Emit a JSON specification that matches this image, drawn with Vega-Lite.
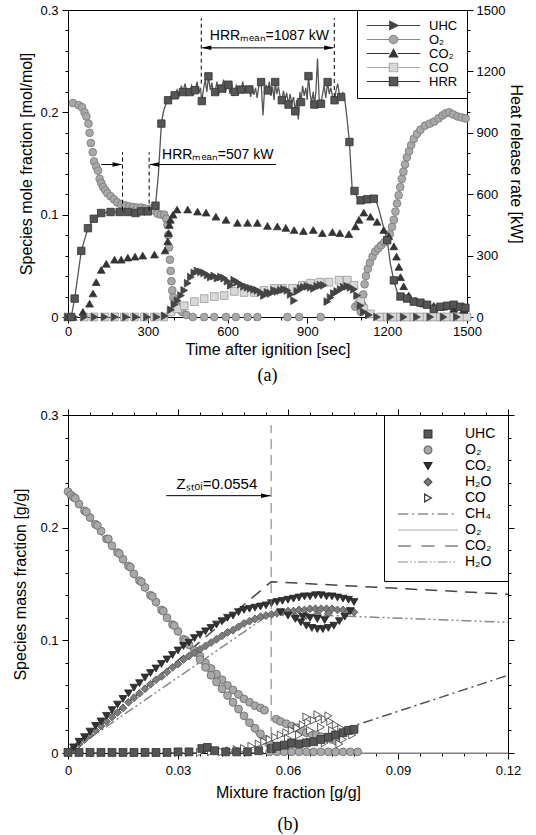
{
"$schema": "https://vega.github.io/schema/vega-lite/v6.json",
"padding": {"left": 12, "top": 3, "right": 0, "bottom": 0},
"config": {
 "font": "Liberation Sans",
 "view": {"stroke": "black", "strokeWidth": 1},
 "axis": {"labelFont": "Liberation Sans", "labelFontSize": 13, "labelColor": "black", "titleFont": "Liberation Sans", "titleFontSize": 16, "titleFontWeight": "normal", "titleColor": "black", "domainColor": "black", "tickColor": "black", "grid": false, "labelOverlap": false, "labelFlush": false, "labelBound": false},
 "legend": {"labelFont": "Liberation Sans", "labelColor": "black"}
},
"spacing": 22,
"align": "none",
"resolve": {"scale": {"fill": "independent", "stroke": "independent", "shape": "independent", "color": "independent", "strokeDash": "independent"}, "legend": {"fill": "independent", "stroke": "independent", "shape": "independent", "color": "independent", "strokeDash": "independent"}},
"datasets": {
 "hrrline": [
  {"t":0,"h":0},{"t":12,"h":0},{"t":25,"h":90},{"t":50,"h":323},{"t":75,"h":434},{"t":97,"h":480},{"t":125,"h":508},{"t":160,"h":513},{"t":194,"h":513},{"t":225,"h":513},{"t":254,"h":508},{"t":275,"h":516},{"t":300,"h":516},{"t":329,"h":544},{"t":340,"h":700},{"t":351,"h":945},{"t":360,"h":1010},{"t":368,"h":1040},{"t":376,"h":1059},{"t":385,"h":1070},{"t":393,"h":1095},{"t":401,"h":1083},{"t":410,"h":1110},{"t":418,"h":1080},{"t":426,"h":1130},{"t":432,"h":1099},{"t":440,"h":1140},{"t":448,"h":1085},{"t":457,"h":1099},{"t":465,"h":1130},{"t":472,"h":1090},{"t":478,"h":1108},{"t":485,"h":1150},{"t":492,"h":1095},{"t":498,"h":1120},{"t":503,"h":1055},{"t":510,"h":1120},{"t":516,"h":1160},{"t":522,"h":1100},{"t":528,"h":1176},{"t":535,"h":1110},{"t":541,"h":1145},{"t":547,"h":1090},{"t":553,"h":1099},{"t":560,"h":1150},{"t":566,"h":1085},{"t":572,"h":1130},{"t":578,"h":1116},{"t":585,"h":1160},{"t":591,"h":1095},{"t":597,"h":1120},{"t":603,"h":1135},{"t":609,"h":1090},{"t":615,"h":1145},{"t":621,"h":1080},{"t":627,"h":1100},{"t":633,"h":1135},{"t":639,"h":1085},{"t":645,"h":1125},{"t":651,"h":1111},{"t":657,"h":1150},{"t":663,"h":1095},{"t":669,"h":1120},{"t":675,"h":1100},{"t":681,"h":1112},{"t":687,"h":1075},{"t":693,"h":1130},{"t":699,"h":1085},{"t":705,"h":1120},{"t":711,"h":1070},{"t":717,"h":1125},{"t":726,"h":1148},{"t":733,"h":985},{"t":739,"h":1110},{"t":745,"h":1130},{"t":751,"h":1107},{"t":757,"h":1150},{"t":763,"h":1080},{"t":769,"h":1125},{"t":775,"h":1060},{"t":779,"h":1148},{"t":785,"h":1090},{"t":791,"h":1125},{"t":797,"h":1080},{"t":804,"h":1059},{"t":810,"h":1105},{"t":816,"h":1060},{"t":822,"h":1095},{"t":829,"h":1038},{"t":835,"h":1090},{"t":841,"h":1045},{"t":848,"h":1075},{"t":854,"h":1005},{"t":860,"h":1060},{"t":866,"h":965},{"t":872,"h":1100},{"t":876,"h":1050},{"t":882,"h":1130},{"t":888,"h":1080},{"t":894,"h":1120},{"t":899,"h":1060},{"t":904,"h":1177},{"t":910,"h":1090},{"t":916,"h":1050},{"t":922,"h":1100},{"t":926,"h":1038},{"t":932,"h":1100},{"t":938,"h":1263},{"t":944,"h":1070},{"t":951,"h":1042},{"t":957,"h":1090},{"t":963,"h":1130},{"t":969,"h":1070},{"t":976,"h":1148},{"t":982,"h":1090},{"t":988,"h":1120},{"t":994,"h":1080},{"t":1002,"h":1059},{"t":1008,"h":1110},{"t":1014,"h":1140},{"t":1020,"h":1090},{"t":1027,"h":1075},{"t":1033,"h":1095},{"t":1040,"h":1070},{"t":1048,"h":980},{"t":1058,"h":855},{"t":1064,"h":720},{"t":1069,"h":611},{"t":1077,"h":616},{"t":1085,"h":590},{"t":1093,"h":575},{"t":1100,"h":570},{"t":1110,"h":585},{"t":1120,"h":560},{"t":1130,"h":590},{"t":1140,"h":595},{"t":1150,"h":578},{"t":1160,"h":560},{"t":1170,"h":520},{"t":1180,"h":470},{"t":1190,"h":420},{"t":1200,"h":375},{"t":1212,"h":260},{"t":1225,"h":179},{"t":1238,"h":120},{"t":1250,"h":100},{"t":1262,"h":95},{"t":1275,"h":90},{"t":1288,"h":80},{"t":1300,"h":75},{"t":1312,"h":78},{"t":1325,"h":70},{"t":1337,"h":68},{"t":1350,"h":60},{"t":1362,"h":50},{"t":1375,"h":40},{"t":1387,"h":45},{"t":1400,"h":50},{"t":1412,"h":52},{"t":1425,"h":55},{"t":1437,"h":58},{"t":1450,"h":60},{"t":1462,"h":55},{"t":1475,"h":50},{"t":1487,"h":48},{"t":1500,"h":45}
 ],
 "hrrpts": [
  {"t":12,"h":0},{"t":25,"h":90},{"t":50,"h":323},{"t":75,"h":434},{"t":97,"h":480},{"t":125,"h":508},{"t":160,"h":513},{"t":194,"h":513},{"t":225,"h":513},{"t":254,"h":508},{"t":275,"h":516},{"t":300,"h":516},{"t":329,"h":544},{"t":351,"h":945},{"t":376,"h":1059},{"t":401,"h":1083},{"t":432,"h":1099},{"t":457,"h":1099},{"t":478,"h":1108},{"t":503,"h":1055},{"t":528,"h":1176},{"t":553,"h":1099},{"t":578,"h":1116},{"t":603,"h":1135},{"t":627,"h":1100},{"t":651,"h":1111},{"t":681,"h":1112},{"t":726,"h":1148},{"t":751,"h":1107},{"t":779,"h":1148},{"t":804,"h":1059},{"t":829,"h":1038},{"t":854,"h":1005},{"t":876,"h":1050},{"t":904,"h":1177},{"t":926,"h":1038},{"t":951,"h":1042},{"t":976,"h":1148},{"t":1002,"h":1059},{"t":1027,"h":1075},{"t":1058,"h":855},{"t":1077,"h":616},{"t":1100,"h":570},{"t":1125,"h":575},{"t":1150,"h":578},{"t":1200,"h":375},{"t":1225,"h":179},{"t":1250,"h":100},{"t":1275,"h":90},{"t":1300,"h":75},{"t":1325,"h":70},{"t":1350,"h":60},{"t":1375,"h":40},{"t":1400,"h":50},{"t":1425,"h":55},{"t":1450,"h":60},{"t":1475,"h":50},{"t":1494,"h":45}
 ],
 "sa": [
  {"s":"O₂","t":19,"v":0.209},{"s":"O₂","t":40,"v":0.207},{"s":"O₂","t":53,"v":0.205},{"s":"O₂","t":62,"v":0.2},{"s":"O₂","t":69,"v":0.196},{"s":"O₂","t":77,"v":0.189},{"s":"O₂","t":81,"v":0.18},{"s":"O₂","t":86,"v":0.17},{"s":"O₂","t":93,"v":0.161},{"s":"O₂","t":98,"v":0.152},{"s":"O₂","t":106,"v":0.147},{"s":"O₂","t":113,"v":0.143},{"s":"O₂","t":119,"v":0.135},{"s":"O₂","t":125,"v":0.131},{"s":"O₂","t":132,"v":0.127},{"s":"O₂","t":140,"v":0.124},{"s":"O₂","t":148,"v":0.121},{"s":"O₂","t":160,"v":0.118},{"s":"O₂","t":173,"v":0.115},{"s":"O₂","t":185,"v":0.112},{"s":"O₂","t":200,"v":0.11},{"s":"O₂","t":215,"v":0.109},{"s":"O₂","t":230,"v":0.108},{"s":"O₂","t":244,"v":0.1075},{"s":"O₂","t":260,"v":0.107},{"s":"O₂","t":275,"v":0.107},{"s":"O₂","t":290,"v":0.106},{"s":"O₂","t":312,"v":0.106},{"s":"O₂","t":325,"v":0.104},{"s":"O₂","t":337,"v":0.101},{"s":"O₂","t":350,"v":0.1},{"s":"O₂","t":362,"v":0.1},{"s":"O₂","t":370,"v":0.096},{"s":"O₂","t":374,"v":0.09},{"s":"O₂","t":377,"v":0.08},{"s":"O₂","t":380,"v":0.068},{"s":"O₂","t":383,"v":0.056},{"s":"O₂","t":386,"v":0.045},{"s":"O₂","t":389,"v":0.035},{"s":"O₂","t":392,"v":0.026},{"s":"O₂","t":396,"v":0.019},{"s":"O₂","t":403,"v":0.014},{"s":"O₂","t":412,"v":0.01},{"s":"O₂","t":421,"v":0.007},{"s":"O₂","t":430,"v":0.005},{"s":"O₂","t":445,"v":0.002},{"s":"O₂","t":469,"v":0},{"s":"O₂","t":512,"v":0},{"s":"O₂","t":550,"v":0},{"s":"O₂","t":594,"v":0},{"s":"O₂","t":631,"v":0},{"s":"O₂","t":675,"v":0},{"s":"O₂","t":712,"v":0},{"s":"O₂","t":825,"v":0},{"s":"O₂","t":869,"v":0},{"s":"O₂","t":950,"v":0},{"s":"O₂","t":1080,"v":0.01},{"s":"O₂","t":1091,"v":0.013},{"s":"O₂","t":1101,"v":0.005},{"s":"O₂","t":1106,"v":0.012},{"s":"O₂","t":1110,"v":0.022},{"s":"O₂","t":1115,"v":0.032},{"s":"O₂","t":1120,"v":0.04},{"s":"O₂","t":1127,"v":0.047},{"s":"O₂","t":1135,"v":0.053},{"s":"O₂","t":1145,"v":0.059},{"s":"O₂","t":1155,"v":0.064},{"s":"O₂","t":1166,"v":0.067},{"s":"O₂","t":1177,"v":0.07},{"s":"O₂","t":1189,"v":0.073},{"s":"O₂","t":1200,"v":0.076},{"s":"O₂","t":1210,"v":0.081},{"s":"O₂","t":1218,"v":0.088},{"s":"O₂","t":1225,"v":0.095},{"s":"O₂","t":1231,"v":0.103},{"s":"O₂","t":1237,"v":0.111},{"s":"O₂","t":1243,"v":0.119},{"s":"O₂","t":1249,"v":0.127},{"s":"O₂","t":1255,"v":0.135},{"s":"O₂","t":1261,"v":0.142},{"s":"O₂","t":1267,"v":0.149},{"s":"O₂","t":1274,"v":0.156},{"s":"O₂","t":1282,"v":0.162},{"s":"O₂","t":1290,"v":0.168},{"s":"O₂","t":1300,"v":0.174},{"s":"O₂","t":1312,"v":0.179},{"s":"O₂","t":1325,"v":0.183},{"s":"O₂","t":1342,"v":0.187},{"s":"O₂","t":1360,"v":0.189},{"s":"O₂","t":1377,"v":0.191},{"s":"O₂","t":1393,"v":0.194},{"s":"O₂","t":1408,"v":0.197},{"s":"O₂","t":1420,"v":0.199},{"s":"O₂","t":1433,"v":0.2},{"s":"O₂","t":1448,"v":0.198},{"s":"O₂","t":1464,"v":0.196},{"s":"O₂","t":1480,"v":0.195},{"s":"O₂","t":1495,"v":0.194},
  {"s":"CO","t":0,"v":0},{"s":"CO","t":61,"v":0},{"s":"CO","t":97,"v":0},{"s":"CO","t":139,"v":0},{"s":"CO","t":175,"v":0},{"s":"CO","t":212,"v":0},{"s":"CO","t":250,"v":0},{"s":"CO","t":287,"v":0},{"s":"CO","t":325,"v":0},{"s":"CO","t":360,"v":0},{"s":"CO","t":387,"v":0.005},{"s":"CO","t":412,"v":0.008},{"s":"CO","t":437,"v":0.011},{"s":"CO","t":475,"v":0.015},{"s":"CO","t":512,"v":0.018},{"s":"CO","t":550,"v":0.02},{"s":"CO","t":587,"v":0.021},{"s":"CO","t":625,"v":0.025},{"s":"CO","t":662,"v":0.024},{"s":"CO","t":700,"v":0.024},{"s":"CO","t":737,"v":0.026},{"s":"CO","t":775,"v":0.028},{"s":"CO","t":806,"v":0.028},{"s":"CO","t":844,"v":0.028},{"s":"CO","t":881,"v":0.031},{"s":"CO","t":912,"v":0.033},{"s":"CO","t":947,"v":0.034},{"s":"CO","t":981,"v":0.034},{"s":"CO","t":1019,"v":0.036},{"s":"CO","t":1050,"v":0.036},{"s":"CO","t":1075,"v":0.031},{"s":"CO","t":1100,"v":0.015},{"s":"CO","t":1112,"v":0.008},{"s":"CO","t":1137,"v":0.003},{"s":"CO","t":1175,"v":0},{"s":"CO","t":1200,"v":0},{"s":"CO","t":1225,"v":0},{"s":"CO","t":1250,"v":0},{"s":"CO","t":1275,"v":0},{"s":"CO","t":1300,"v":0},{"s":"CO","t":1325,"v":0},{"s":"CO","t":1350,"v":0},{"s":"CO","t":1375,"v":0},{"s":"CO","t":1400,"v":0},{"s":"CO","t":1425,"v":0},{"s":"CO","t":1450,"v":0},{"s":"CO","t":1475,"v":0},{"s":"CO","t":1500,"v":0},
  {"s":"CO₂","t":0,"v":0},{"s":"CO₂","t":19,"v":0},{"s":"CO₂","t":56,"v":0.005},{"s":"CO₂","t":81,"v":0.013},{"s":"CO₂","t":94,"v":0.023},{"s":"CO₂","t":106,"v":0.034},{"s":"CO₂","t":125,"v":0.046},{"s":"CO₂","t":144,"v":0.052},{"s":"CO₂","t":175,"v":0.056},{"s":"CO₂","t":200,"v":0.056},{"s":"CO₂","t":225,"v":0.058},{"s":"CO₂","t":252,"v":0.059},{"s":"CO₂","t":281,"v":0.06},{"s":"CO₂","t":325,"v":0.061},{"s":"CO₂","t":365,"v":0.065},{"s":"CO₂","t":375,"v":0.074},{"s":"CO₂","t":378,"v":0.082},{"s":"CO₂","t":381,"v":0.09},{"s":"CO₂","t":385,"v":0.095},{"s":"CO₂","t":395,"v":0.1},{"s":"CO₂","t":410,"v":0.105},{"s":"CO₂","t":450,"v":0.105},{"s":"CO₂","t":487,"v":0.103},{"s":"CO₂","t":519,"v":0.102},{"s":"CO₂","t":556,"v":0.098},{"s":"CO₂","t":594,"v":0.095},{"s":"CO₂","t":637,"v":0.092},{"s":"CO₂","t":675,"v":0.092},{"s":"CO₂","t":712,"v":0.092},{"s":"CO₂","t":750,"v":0.089},{"s":"CO₂","t":787,"v":0.0885},{"s":"CO₂","t":819,"v":0.087},{"s":"CO₂","t":850,"v":0.085},{"s":"CO₂","t":885,"v":0.084},{"s":"CO₂","t":922,"v":0.085},{"s":"CO₂","t":956,"v":0.082},{"s":"CO₂","t":994,"v":0.083},{"s":"CO₂","t":1022,"v":0.082},{"s":"CO₂","t":1056,"v":0.081},{"s":"CO₂","t":1081,"v":0.0885},{"s":"CO₂","t":1094,"v":0.095},{"s":"CO₂","t":1112,"v":0.102},{"s":"CO₂","t":1137,"v":0.098},{"s":"CO₂","t":1162,"v":0.093},{"s":"CO₂","t":1187,"v":0.085},{"s":"CO₂","t":1206,"v":0.079},{"s":"CO₂","t":1225,"v":0.069},{"s":"CO₂","t":1235,"v":0.059},{"s":"CO₂","t":1244,"v":0.049},{"s":"CO₂","t":1250,"v":0.039},{"s":"CO₂","t":1262,"v":0.03},{"s":"CO₂","t":1281,"v":0.021},{"s":"CO₂","t":1306,"v":0.016},{"s":"CO₂","t":1337,"v":0.013},{"s":"CO₂","t":1375,"v":0.011},{"s":"CO₂","t":1412,"v":0.01},{"s":"CO₂","t":1450,"v":0.008},{"s":"CO₂","t":1487,"v":0.007},
  {"s":"UHC","t":0,"v":0},{"s":"UHC","t":24,"v":0},{"s":"UHC","t":61,"v":0},{"s":"UHC","t":100,"v":0},{"s":"UHC","t":138,"v":0},{"s":"UHC","t":176,"v":0},{"s":"UHC","t":218,"v":0},{"s":"UHC","t":255,"v":0},{"s":"UHC","t":297,"v":0},{"s":"UHC","t":333,"v":0},{"s":"UHC","t":364,"v":0.001},{"s":"UHC","t":387,"v":0.007},{"s":"UHC","t":400,"v":0.012},{"s":"UHC","t":412,"v":0.016},{"s":"UHC","t":425,"v":0.021},{"s":"UHC","t":437,"v":0.026},{"s":"UHC","t":450,"v":0.033},{"s":"UHC","t":462,"v":0.039},{"s":"UHC","t":475,"v":0.043},{"s":"UHC","t":487,"v":0.045},{"s":"UHC","t":500,"v":0.044},{"s":"UHC","t":512,"v":0.043},{"s":"UHC","t":525,"v":0.041},{"s":"UHC","t":537,"v":0.039},{"s":"UHC","t":550,"v":0.04},{"s":"UHC","t":562,"v":0.038},{"s":"UHC","t":575,"v":0.039},{"s":"UHC","t":587,"v":0.038},{"s":"UHC","t":600,"v":0.035},{"s":"UHC","t":612,"v":0.031},{"s":"UHC","t":625,"v":0.036},{"s":"UHC","t":637,"v":0.034},{"s":"UHC","t":650,"v":0.032},{"s":"UHC","t":662,"v":0.03},{"s":"UHC","t":675,"v":0.029},{"s":"UHC","t":687,"v":0.028},{"s":"UHC","t":700,"v":0.027},{"s":"UHC","t":712,"v":0.026},{"s":"UHC","t":725,"v":0.024},{"s":"UHC","t":737,"v":0.021},{"s":"UHC","t":750,"v":0.024},{"s":"UHC","t":762,"v":0.023},{"s":"UHC","t":775,"v":0.026},{"s":"UHC","t":787,"v":0.025},{"s":"UHC","t":800,"v":0.026},{"s":"UHC","t":812,"v":0.027},{"s":"UHC","t":825,"v":0.026},{"s":"UHC","t":837,"v":0.022},{"s":"UHC","t":850,"v":0.016},{"s":"UHC","t":862,"v":0.025},{"s":"UHC","t":875,"v":0.028},{"s":"UHC","t":887,"v":0.029},{"s":"UHC","t":900,"v":0.03},{"s":"UHC","t":912,"v":0.029},{"s":"UHC","t":925,"v":0.028},{"s":"UHC","t":937,"v":0.03},{"s":"UHC","t":950,"v":0.031},{"s":"UHC","t":962,"v":0.031},{"s":"UHC","t":975,"v":0.015},{"s":"UHC","t":987,"v":0.019},{"s":"UHC","t":1000,"v":0.023},{"s":"UHC","t":1012,"v":0.025},{"s":"UHC","t":1025,"v":0.027},{"s":"UHC","t":1037,"v":0.029},{"s":"UHC","t":1050,"v":0.03},{"s":"UHC","t":1062,"v":0.029},{"s":"UHC","t":1075,"v":0.027},{"s":"UHC","t":1087,"v":0.021},{"s":"UHC","t":1100,"v":0.011},{"s":"UHC","t":1112,"v":0.005},{"s":"UHC","t":1131,"v":0.002},{"s":"UHC","t":1162,"v":0},{"s":"UHC","t":1212,"v":0},{"s":"UHC","t":1262,"v":0},{"s":"UHC","t":1312,"v":0},{"s":"UHC","t":1362,"v":0},{"s":"UHC","t":1412,"v":0},{"s":"UHC","t":1462,"v":0}
 ],
 "annvert": [
  {"t":205,"y":0.104,"y2":0.161},{"t":305,"y":0.104,"y2":0.161},{"t":501,"y":0.228,"y2":0.292},{"t":1001,"y":0.215,"y2":0.292}
 ],
 "annhor": [
  {"t":125,"t2":200,"y":0.149},{"t":308,"t2":782,"y":0.149},{"t":506,"t2":996,"y":0.263}
 ],
 "headright": [{"t":186,"y":0.149},{"t":982,"y":0.263}],
 "headleft": [{"t":324,"y":0.149},{"t":520,"y":0.263}],
 "anntext": [
  {"t":563,"y":0.158,"txt":"HRRₘₑₐₙ=507 kW"},
  {"t":757,"y":0.2744,"txt":"HRRₘₑₐₙ=1087 kW"}
 ],
 "eq": [
  {"e":"CH4eq","z":0,"y":0},{"e":"CH4eq","z":0.0554,"y":0},{"e":"CH4eq","z":0.12,"y":0.069},
  {"e":"O2eq","z":0,"y":0.232},{"e":"O2eq","z":0.0554,"y":0},{"e":"O2eq","z":0.12,"y":0},
  {"e":"CO2eq","z":0,"y":0},{"e":"CO2eq","z":0.0554,"y":0.152},{"e":"CO2eq","z":0.12,"y":0.141},
  {"e":"H2Oeq","z":0,"y":0},{"e":"H2Oeq","z":0.0554,"y":0.124},{"e":"H2Oeq","z":0.12,"y":0.116}
 ],
 "sb": [
  {"s":"O₂","z":0,"y":0.232},{"s":"O₂","z":0.0008,"y":0.229},{"s":"O₂","z":0.0015,"y":0.227},{"s":"O₂","z":0.003,"y":0.221},{"s":"O₂","z":0.0045,"y":0.215},{"s":"O₂","z":0.006,"y":0.209},{"s":"O₂","z":0.0075,"y":0.203},{"s":"O₂","z":0.009,"y":0.197},{"s":"O₂","z":0.0105,"y":0.19},{"s":"O₂","z":0.012,"y":0.184},{"s":"O₂","z":0.0135,"y":0.178},{"s":"O₂","z":0.015,"y":0.172},{"s":"O₂","z":0.0165,"y":0.166},{"s":"O₂","z":0.018,"y":0.159},{"s":"O₂","z":0.0195,"y":0.153},{"s":"O₂","z":0.021,"y":0.147},{"s":"O₂","z":0.0225,"y":0.14},{"s":"O₂","z":0.024,"y":0.134},{"s":"O₂","z":0.0255,"y":0.127},{"s":"O₂","z":0.027,"y":0.12},{"s":"O₂","z":0.0285,"y":0.114},{"s":"O₂","z":0.03,"y":0.108},{"s":"O₂","z":0.0315,"y":0.101},{"s":"O₂","z":0.033,"y":0.096},{"s":"O₂","z":0.0345,"y":0.091},
  {"s":"O₂","z":0.002,"y":0.226},{"s":"O₂","z":0.005,"y":0.214},{"s":"O₂","z":0.008,"y":0.202},{"s":"O₂","z":0.011,"y":0.19},{"s":"O₂","z":0.014,"y":0.177},{"s":"O₂","z":0.017,"y":0.165},{"s":"O₂","z":0.02,"y":0.152},{"s":"O₂","z":0.023,"y":0.139},{"s":"O₂","z":0.026,"y":0.126},{"s":"O₂","z":0.029,"y":0.113},{"s":"O₂","z":0.032,"y":0.1},
  {"s":"O₂","z":0.036,"y":0.086},{"s":"O₂","z":0.0375,"y":0.08},{"s":"O₂","z":0.039,"y":0.075},{"s":"O₂","z":0.0405,"y":0.07},{"s":"O₂","z":0.042,"y":0.065},{"s":"O₂","z":0.0435,"y":0.06},{"s":"O₂","z":0.045,"y":0.056},{"s":"O₂","z":0.0465,"y":0.052},{"s":"O₂","z":0.048,"y":0.048},{"s":"O₂","z":0.0495,"y":0.045},{"s":"O₂","z":0.051,"y":0.042},{"s":"O₂","z":0.0525,"y":0.04},{"s":"O₂","z":0.0536,"y":0.038},
  {"s":"O₂","z":0.036,"y":0.083},{"s":"O₂","z":0.0375,"y":0.076},{"s":"O₂","z":0.039,"y":0.069},{"s":"O₂","z":0.0405,"y":0.063},{"s":"O₂","z":0.042,"y":0.057},{"s":"O₂","z":0.0435,"y":0.051},{"s":"O₂","z":0.045,"y":0.045},{"s":"O₂","z":0.0465,"y":0.039},{"s":"O₂","z":0.048,"y":0.033},{"s":"O₂","z":0.0495,"y":0.027},{"s":"O₂","z":0.051,"y":0.022},{"s":"O₂","z":0.0525,"y":0.017},{"s":"O₂","z":0.054,"y":0.012},{"s":"O₂","z":0.055,"y":0.008},
  {"s":"O₂","z":0.0568,"y":0.03},{"s":"O₂","z":0.058,"y":0.028},{"s":"O₂","z":0.0595,"y":0.026},{"s":"O₂","z":0.061,"y":0.024},{"s":"O₂","z":0.0623,"y":0.0225},{"s":"O₂","z":0.0637,"y":0.02},{"s":"O₂","z":0.065,"y":0.018},{"s":"O₂","z":0.0665,"y":0.017},{"s":"O₂","z":0.0677,"y":0.016},{"s":"O₂","z":0.069,"y":0.0145},{"s":"O₂","z":0.0705,"y":0.013},{"s":"O₂","z":0.072,"y":0.012},{"s":"O₂","z":0.0732,"y":0.0105},
  {"s":"O₂","z":0.055,"y":0.001},{"s":"O₂","z":0.057,"y":0.001},{"s":"O₂","z":0.059,"y":0.001},{"s":"O₂","z":0.061,"y":0.001},{"s":"O₂","z":0.063,"y":0.001},{"s":"O₂","z":0.065,"y":0.001},{"s":"O₂","z":0.067,"y":0.001},{"s":"O₂","z":0.069,"y":0.001},{"s":"O₂","z":0.071,"y":0.001},{"s":"O₂","z":0.073,"y":0.001},{"s":"O₂","z":0.075,"y":0.001},{"s":"O₂","z":0.077,"y":0.001},{"s":"O₂","z":0.079,"y":0.001},
  {"s":"H₂O","z":0,"y":0},{"s":"H₂O","z":0.0015,"y":0.004},{"s":"H₂O","z":0.003,"y":0.008},{"s":"H₂O","z":0.0045,"y":0.012},{"s":"H₂O","z":0.006,"y":0.016},{"s":"H₂O","z":0.0075,"y":0.02},{"s":"H₂O","z":0.009,"y":0.024},{"s":"H₂O","z":0.0105,"y":0.028},{"s":"H₂O","z":0.012,"y":0.032},{"s":"H₂O","z":0.0135,"y":0.036},{"s":"H₂O","z":0.015,"y":0.04},{"s":"H₂O","z":0.0165,"y":0.045},{"s":"H₂O","z":0.018,"y":0.049},{"s":"H₂O","z":0.0195,"y":0.053},{"s":"H₂O","z":0.021,"y":0.057},{"s":"H₂O","z":0.0225,"y":0.061},{"s":"H₂O","z":0.024,"y":0.065},{"s":"H₂O","z":0.0255,"y":0.068},{"s":"H₂O","z":0.027,"y":0.072},{"s":"H₂O","z":0.0285,"y":0.076},{"s":"H₂O","z":0.03,"y":0.079},{"s":"H₂O","z":0.0315,"y":0.083},{"s":"H₂O","z":0.033,"y":0.086},{"s":"H₂O","z":0.0345,"y":0.089},{"s":"H₂O","z":0.036,"y":0.092},{"s":"H₂O","z":0.0375,"y":0.095},{"s":"H₂O","z":0.039,"y":0.098},{"s":"H₂O","z":0.0405,"y":0.101},{"s":"H₂O","z":0.042,"y":0.104},{"s":"H₂O","z":0.0435,"y":0.107},{"s":"H₂O","z":0.045,"y":0.109},{"s":"H₂O","z":0.0465,"y":0.112},{"s":"H₂O","z":0.048,"y":0.115},{"s":"H₂O","z":0.0495,"y":0.117},{"s":"H₂O","z":0.051,"y":0.119},{"s":"H₂O","z":0.0525,"y":0.121},{"s":"H₂O","z":0.054,"y":0.122},
  {"s":"H₂O","z":0.0555,"y":0.123},{"s":"H₂O","z":0.057,"y":0.124},{"s":"H₂O","z":0.0585,"y":0.125},{"s":"H₂O","z":0.06,"y":0.126},{"s":"H₂O","z":0.0615,"y":0.126},{"s":"H₂O","z":0.063,"y":0.127},{"s":"H₂O","z":0.0645,"y":0.127},{"s":"H₂O","z":0.066,"y":0.128},{"s":"H₂O","z":0.0675,"y":0.128},{"s":"H₂O","z":0.069,"y":0.128},{"s":"H₂O","z":0.0705,"y":0.128},{"s":"H₂O","z":0.072,"y":0.128},{"s":"H₂O","z":0.0735,"y":0.127},{"s":"H₂O","z":0.075,"y":0.127},{"s":"H₂O","z":0.0765,"y":0.126},{"s":"H₂O","z":0.078,"y":0.125},{"s":"H₂O","z":0.062,"y":0.121},{"s":"H₂O","z":0.065,"y":0.122},{"s":"H₂O","z":0.068,"y":0.123},{"s":"H₂O","z":0.071,"y":0.124},
  {"s":"CO₂","z":0,"y":0},{"s":"CO₂","z":0.0015,"y":0.005},{"s":"CO₂","z":0.003,"y":0.01},{"s":"CO₂","z":0.0045,"y":0.014},{"s":"CO₂","z":0.006,"y":0.019},{"s":"CO₂","z":0.0075,"y":0.024},{"s":"CO₂","z":0.009,"y":0.028},{"s":"CO₂","z":0.0105,"y":0.033},{"s":"CO₂","z":0.012,"y":0.038},{"s":"CO₂","z":0.0135,"y":0.043},{"s":"CO₂","z":0.015,"y":0.048},{"s":"CO₂","z":0.0165,"y":0.053},{"s":"CO₂","z":0.018,"y":0.058},{"s":"CO₂","z":0.0195,"y":0.062},{"s":"CO₂","z":0.021,"y":0.067},{"s":"CO₂","z":0.0225,"y":0.071},{"s":"CO₂","z":0.024,"y":0.075},{"s":"CO₂","z":0.0255,"y":0.079},{"s":"CO₂","z":0.027,"y":0.083},{"s":"CO₂","z":0.0285,"y":0.087},{"s":"CO₂","z":0.03,"y":0.091},{"s":"CO₂","z":0.0315,"y":0.095},{"s":"CO₂","z":0.033,"y":0.098},{"s":"CO₂","z":0.0345,"y":0.102},{"s":"CO₂","z":0.036,"y":0.105},{"s":"CO₂","z":0.0375,"y":0.108},{"s":"CO₂","z":0.039,"y":0.111},{"s":"CO₂","z":0.0405,"y":0.114},{"s":"CO₂","z":0.042,"y":0.117},{"s":"CO₂","z":0.0435,"y":0.12},{"s":"CO₂","z":0.045,"y":0.122},{"s":"CO₂","z":0.0465,"y":0.125},{"s":"CO₂","z":0.048,"y":0.127},{"s":"CO₂","z":0.0495,"y":0.128},{"s":"CO₂","z":0.051,"y":0.129},{"s":"CO₂","z":0.0525,"y":0.13},{"s":"CO₂","z":0.054,"y":0.131},
  {"s":"CO₂","z":0.0555,"y":0.133},{"s":"CO₂","z":0.057,"y":0.134},{"s":"CO₂","z":0.0585,"y":0.135},{"s":"CO₂","z":0.06,"y":0.136},{"s":"CO₂","z":0.0615,"y":0.137},{"s":"CO₂","z":0.063,"y":0.138},{"s":"CO₂","z":0.0645,"y":0.139},{"s":"CO₂","z":0.066,"y":0.139},{"s":"CO₂","z":0.0675,"y":0.14},{"s":"CO₂","z":0.069,"y":0.14},{"s":"CO₂","z":0.0705,"y":0.139},{"s":"CO₂","z":0.072,"y":0.139},{"s":"CO₂","z":0.0735,"y":0.138},{"s":"CO₂","z":0.075,"y":0.137},{"s":"CO₂","z":0.0765,"y":0.136},{"s":"CO₂","z":0.078,"y":0.134},
  {"s":"CO₂","z":0.058,"y":0.125},{"s":"CO₂","z":0.06,"y":0.122},{"s":"CO₂","z":0.062,"y":0.119},{"s":"CO₂","z":0.0635,"y":0.116},{"s":"CO₂","z":0.065,"y":0.113},{"s":"CO₂","z":0.0665,"y":0.111},{"s":"CO₂","z":0.068,"y":0.11},{"s":"CO₂","z":0.0695,"y":0.11},{"s":"CO₂","z":0.071,"y":0.111},{"s":"CO₂","z":0.0725,"y":0.113},{"s":"CO₂","z":0.074,"y":0.117},{"s":"CO₂","z":0.0755,"y":0.121},{"s":"CO₂","z":0.077,"y":0.126},{"s":"CO₂","z":0.064,"y":0.121},{"s":"CO₂","z":0.066,"y":0.12},{"s":"CO₂","z":0.068,"y":0.119},{"s":"CO₂","z":0.07,"y":0.118},
  {"s":"CO","z":0,"y":0.0005},{"s":"CO","z":0.003,"y":0.0005},{"s":"CO","z":0.006,"y":0.0005},{"s":"CO","z":0.009,"y":0.0005},{"s":"CO","z":0.012,"y":0.0005},{"s":"CO","z":0.015,"y":0.0005},{"s":"CO","z":0.018,"y":0.0005},{"s":"CO","z":0.021,"y":0.0005},{"s":"CO","z":0.024,"y":0.0005},{"s":"CO","z":0.027,"y":0.0005},{"s":"CO","z":0.03,"y":0.0005},{"s":"CO","z":0.033,"y":0.0005},{"s":"CO","z":0.036,"y":0.0005},{"s":"CO","z":0.039,"y":0.001},{"s":"CO","z":0.042,"y":0.001},{"s":"CO","z":0.044,"y":0.002},{"s":"CO","z":0.046,"y":0.003},{"s":"CO","z":0.048,"y":0.004},{"s":"CO","z":0.05,"y":0.006},{"s":"CO","z":0.052,"y":0.008},{"s":"CO","z":0.0535,"y":0.01},{"s":"CO","z":0.055,"y":0.012},{"s":"CO","z":0.0565,"y":0.014},{"s":"CO","z":0.058,"y":0.016},{"s":"CO","z":0.0595,"y":0.018},{"s":"CO","z":0.061,"y":0.02},{"s":"CO","z":0.0625,"y":0.022},{"s":"CO","z":0.064,"y":0.025},{"s":"CO","z":0.0655,"y":0.027},{"s":"CO","z":0.067,"y":0.029},{"s":"CO","z":0.0685,"y":0.031},{"s":"CO","z":0.07,"y":0.03},{"s":"CO","z":0.0715,"y":0.028},{"s":"CO","z":0.073,"y":0.025},{"s":"CO","z":0.0745,"y":0.022},{"s":"CO","z":0.076,"y":0.019},{"s":"CO","z":0.0775,"y":0.016},{"s":"CO","z":0.06,"y":0.013},{"s":"CO","z":0.063,"y":0.016},{"s":"CO","z":0.066,"y":0.02},{"s":"CO","z":0.069,"y":0.023},{"s":"CO","z":0.072,"y":0.02},{"s":"CO","z":0.075,"y":0.012},{"s":"CO","z":0.065,"y":0.032},{"s":"CO","z":0.068,"y":0.034},{"s":"CO","z":0.071,"y":0.033},{"s":"CO","z":0.058,"y":0.006},{"s":"CO","z":0.062,"y":0.008},{"s":"CO","z":0.066,"y":0.01},{"s":"CO","z":0.07,"y":0.009},{"s":"CO","z":0.074,"y":0.008},
  {"s":"UHC","z":0,"y":0.0005},{"s":"UHC","z":0.003,"y":0.0005},{"s":"UHC","z":0.006,"y":0.0005},{"s":"UHC","z":0.009,"y":0.0005},{"s":"UHC","z":0.012,"y":0.0005},{"s":"UHC","z":0.015,"y":0.0005},{"s":"UHC","z":0.018,"y":0.0005},{"s":"UHC","z":0.021,"y":0.0005},{"s":"UHC","z":0.024,"y":0.0005},{"s":"UHC","z":0.027,"y":0.0005},{"s":"UHC","z":0.03,"y":0.001},{"s":"UHC","z":0.033,"y":0.001},{"s":"UHC","z":0.0365,"y":0.004},{"s":"UHC","z":0.038,"y":0.005},{"s":"UHC","z":0.04,"y":0.002},{"s":"UHC","z":0.043,"y":0.001},{"s":"UHC","z":0.046,"y":0.001},{"s":"UHC","z":0.049,"y":0.001},{"s":"UHC","z":0.052,"y":0.002},{"s":"UHC","z":0.0555,"y":0.004},{"s":"UHC","z":0.057,"y":0.006},{"s":"UHC","z":0.059,"y":0.007},{"s":"UHC","z":0.061,"y":0.009},{"s":"UHC","z":0.063,"y":0.008},{"s":"UHC","z":0.065,"y":0.009},{"s":"UHC","z":0.067,"y":0.01},{"s":"UHC","z":0.069,"y":0.012},{"s":"UHC","z":0.071,"y":0.014},{"s":"UHC","z":0.073,"y":0.016},{"s":"UHC","z":0.075,"y":0.018},{"s":"UHC","z":0.0765,"y":0.02},{"s":"UHC","z":0.078,"y":0.021}
 ],
 "zvert": [{"z":0.0554,"y":0,"y2":0.291}],
 "zarrow": [{"z":0.0268,"z2":0.0552,"y":0.2284}],
 "zhead": [{"z":0.054,"y":0.2284}],
 "ztext": [{"z":0.0406,"y":0.239,"txt":"Zₛₜₒᵢ=0.0554"}]
},
"vconcat": [
 {
  "width": 399, "height": 307,
  "title": {"text": "(a)", "orient": "bottom", "font": "Liberation Serif", "fontSize": 18, "fontWeight": "normal", "color": "black", "offset": 10},
  "resolve": {"scale": {"y": "independent", "fill": "independent", "stroke": "independent", "shape": "independent"}, "axis": {"x": "independent", "y": "independent"}, "legend": {"fill": "independent", "stroke": "independent", "shape": "independent"}},
  "layer": [
   {
    "data": {"name": "hrrline"},
    "mark": {"type": "line", "color": "#555", "strokeWidth": 1.3},
    "encoding": {
     "x": {"field": "t", "type": "quantitative", "scale": {"domain": [0, 1500], "nice": false},
      "axis": {"title": "Time after ignition [sec]", "format": "d", "labelOverlap": false, "values": [0,100,200,300,400,500,600,700,800,900,1000,1100,1200,1300,1400,1500], "labelExpr": "datum.value % 300 === 0 ? datum.label : ''", "tickSize": {"condition": {"test": "datum.value % 300 === 0", "value": 6}, "value": 3}, "labelPadding": 2, "titlePadding": 3}},
     "y": {"field": "h", "type": "quantitative", "scale": {"domain": [0, 1500], "nice": false},
      "axis": {"orient": "right", "title": "Heat release rate [kW]", "format": "d", "labelOverlap": false, "values": [0,100,200,300,400,500,600,700,800,900,1000,1100,1200,1300,1400,1500], "labelExpr": "datum.value % 300 === 0 ? datum.label : ''", "tickSize": {"condition": {"test": "datum.value % 300 === 0", "value": 6}, "value": 3}, "labelPadding": 3, "titlePadding": 3}}
    }
   },
   {
    "data": {"name": "sa"},
    "mark": {"type": "point", "filled": true, "size": 60, "strokeWidth": 0.8, "opacity": 1},
    "encoding": {
     "x": {"field": "t", "type": "quantitative", "axis": null},
     "y": {"field": "v", "type": "quantitative", "scale": {"domain": [0, 0.3], "nice": false},
      "axis": {"orient": "left", "title": "Species mole fraction [mol/mol]", "format": "~g", "labelOverlap": false, "values": [0,0.02,0.04,0.06,0.08,0.1,0.12,0.14,0.16,0.18,0.2,0.22,0.24,0.26,0.28,0.3], "labelExpr": "abs(datum.value*10-round(datum.value*10))<0.001 ? datum.label : ''", "tickSize": {"condition": {"test": "abs(datum.value*10-round(datum.value*10))<0.001", "value": 6}, "value": 3}, "labelPadding": 4, "titlePadding": 5}},
     "fill": {"field": "s", "type": "nominal", "scale": {"domain": ["UHC","O₂","CO₂","CO"], "range": ["#444","#a8a8a8","#333","#d8d8d8"]}, "legend": null},
     "stroke": {"field": "s", "type": "nominal", "scale": {"domain": ["UHC","O₂","CO₂","CO"], "range": ["#444","#777","#333","#999"]}, "legend": null},
     "shape": {"field": "s", "type": "nominal", "scale": {"domain": ["UHC","O₂","CO₂","CO"], "range": ["triangle-right","circle","triangle-up","square"]}, "legend": null}
    }
   },
   {
    "data": {"name": "hrrpts"},
    "mark": {"type": "point", "filled": true, "size": 55, "strokeWidth": 0.8, "opacity": 1, "shape": "square", "fill": "#555", "stroke": "#333"},
    "encoding": {
     "x": {"field": "t", "type": "quantitative", "axis": null},
     "y": {"field": "h", "type": "quantitative", "scale": {"domain": [0, 1500], "nice": false}, "axis": null}
    }
   },
   {
    "data": {"name": "sa"},
    "transform": [{"filter": "false"}],
    "mark": {"type": "point", "filled": true, "size": 70, "strokeWidth": 1, "opacity": 1},
    "encoding": {
     "x": {"field": "t", "type": "quantitative", "axis": null},
     "y": {"field": "v", "type": "quantitative", "scale": {"domain": [0, 0.3], "nice": false}, "axis": null},
     "fill": {"field": "s", "type": "nominal", "scale": {"domain": ["UHC","O₂","CO₂","CO","HRR"], "range": ["#444","#a8a8a8","#333","#d8d8d8","#555"]},
      "legend": {"title": null, "orient": "top-right", "offset": 0, "padding": 9, "strokeColor": "black", "fillColor": "white", "labelFontSize": 13, "rowPadding": 0, "symbolSize": 70, "symbolStrokeWidth": 1.1, "symbolOffset": 21, "labelOffset": 29}},
     "stroke": {"field": "s", "type": "nominal", "scale": {"domain": ["UHC","O₂","CO₂","CO","HRR"], "range": ["#444","#888","#333","#aaa","#333"]}},
     "shape": {"field": "s", "type": "nominal", "scale": {"domain": ["UHC","O₂","CO₂","CO","HRR"], "range": ["M-6.4,0H6.4M-0.9,-1L1.1,0L-0.9,1Z", "M-6.4,0H-1M1,0H6.4M1,0A1,1,0,1,1,-1,0A1,1,0,1,1,1,0Z", "M-6.4,0H-1M1,0H6.4M0,-1L1,0.8L-1,0.8Z", "M-6.4,0H-1M1,0H6.4M-1,-1H1V1H-1Z", "M-6.4,0H-1M1,0H6.4M-1,-1H1V1H-1Z"]}}
    }
   },
   {
    "data": {"name": "annvert"},
    "mark": {"type": "rule", "color": "black", "strokeDash": [4, 3], "strokeWidth": 1},
    "encoding": {
     "x": {"field": "t", "type": "quantitative", "axis": null},
     "y": {"field": "y", "type": "quantitative", "scale": {"domain": [0, 0.3], "nice": false}, "axis": null},
     "y2": {"field": "y2"}
    }
   },
   {
    "data": {"name": "annhor"},
    "mark": {"type": "rule", "color": "black", "strokeWidth": 1},
    "encoding": {
     "x": {"field": "t", "type": "quantitative", "axis": null},
     "x2": {"field": "t2"},
     "y": {"field": "y", "type": "quantitative", "scale": {"domain": [0, 0.3], "nice": false}, "axis": null}
    }
   },
   {
    "data": {"name": "headright"},
    "mark": {"type": "point", "filled": true, "color": "black", "opacity": 1, "size": 100, "shape": "M-1,-0.45L1,0L-1,0.45Z"},
    "encoding": {
     "x": {"field": "t", "type": "quantitative", "axis": null},
     "y": {"field": "y", "type": "quantitative", "scale": {"domain": [0, 0.3], "nice": false}, "axis": null}
    }
   },
   {
    "data": {"name": "headleft"},
    "mark": {"type": "point", "filled": true, "color": "black", "opacity": 1, "size": 100, "shape": "M1,-0.45L-1,0L1,0.45Z"},
    "encoding": {
     "x": {"field": "t", "type": "quantitative", "axis": null},
     "y": {"field": "y", "type": "quantitative", "scale": {"domain": [0, 0.3], "nice": false}, "axis": null}
    }
   },
   {
    "data": {"name": "anntext"},
    "mark": {"type": "text", "font": "Liberation Sans", "fontSize": 14, "color": "black", "align": "center", "baseline": "middle"},
    "encoding": {
     "x": {"field": "t", "type": "quantitative", "axis": null},
     "y": {"field": "y", "type": "quantitative", "scale": {"domain": [0, 0.3], "nice": false}, "axis": null},
     "text": {"field": "txt"}
    }
   }
  ]
 },
 {
  "width": 440, "height": 338,
  "title": {"text": "(b)", "orient": "bottom", "font": "Liberation Serif", "fontSize": 18, "fontWeight": "normal", "color": "black", "offset": 16},
  "resolve": {"axis": {"x": "independent", "y": "independent"}},
  "layer": [
   {
    "data": {"name": "eq"},
    "mark": {"type": "line", "strokeWidth": 1.5},
    "encoding": {
     "x": {"field": "z", "type": "quantitative", "scale": {"domain": [0, 0.12], "nice": false},
      "axis": {"orient": "bottom", "title": "Mixture fraction [g/g]", "format": "~g", "labelOverlap": false, "values": [0,0.006,0.012,0.018,0.024,0.03,0.036,0.042,0.048,0.054,0.06,0.066,0.072,0.078,0.084,0.09,0.096,0.102,0.108,0.114,0.12], "labelExpr": "abs(datum.value/0.03-round(datum.value/0.03))<0.001 ? datum.label : ''", "tickSize": {"condition": {"test": "abs(datum.value/0.03-round(datum.value/0.03))<0.001", "value": 6}, "value": 3}, "labelPadding": 5, "titlePadding": 7}},
     "y": {"field": "y", "type": "quantitative", "scale": {"domain": [0, 0.3], "nice": false},
      "axis": {"orient": "left", "title": "Species mass fraction [g/g]", "format": "~g", "labelOverlap": false, "values": [0,0.02,0.04,0.06,0.08,0.1,0.12,0.14,0.16,0.18,0.2,0.22,0.24,0.26,0.28,0.3], "labelExpr": "abs(datum.value*10-round(datum.value*10))<0.001 ? datum.label : ''", "tickSize": {"condition": {"test": "abs(datum.value*10-round(datum.value*10))<0.001", "value": 6}, "value": 3}, "labelPadding": 4, "titlePadding": 11}},
     "color": {"field": "e", "type": "nominal", "scale": {"domain": ["CH4eq","O2eq","CO2eq","H2Oeq"], "range": ["#555","#aaa","#444","#888"]}, "legend": null},
     "strokeDash": {"field": "e", "type": "nominal", "scale": {"domain": ["CH4eq","O2eq","CO2eq","H2Oeq"], "range": [[10,4,2,4],[1,0],[12,8],[10,3,2,3,2,3]]}, "legend": null}
    }
   },
   {
    "data": {"name": "sb"},
    "mark": {"type": "point", "filled": true, "size": 62, "strokeWidth": 0.8, "opacity": 1},
    "encoding": {
     "x": {"field": "z", "type": "quantitative",
      "axis": {"orient": "top", "title": null, "labels": false, "values": [0,0.006,0.012,0.018,0.024,0.03,0.036,0.042,0.048,0.054,0.06,0.066,0.072,0.078,0.084,0.09,0.096,0.102,0.108,0.114,0.12], "tickSize": {"condition": {"test": "abs(datum.value/0.03-round(datum.value/0.03))<0.001", "value": 6}, "value": 3}}},
     "y": {"field": "y", "type": "quantitative",
      "axis": {"orient": "right", "title": null, "labels": false, "values": [0,0.02,0.04,0.06,0.08,0.1,0.12,0.14,0.16,0.18,0.2,0.22,0.24,0.26,0.28,0.3], "tickSize": {"condition": {"test": "abs(datum.value*10-round(datum.value*10))<0.001", "value": 6}, "value": 3}}},
     "fill": {"field": "s", "type": "nominal", "scale": {"domain": ["UHC","O₂","CO₂","H₂O","CO","CH4eq","O2eq","CO2eq","H2Oeq"], "range": ["#555","#a8a8a8","#333","#7c7c7c","#ffffff","transparent","transparent","transparent","transparent"]},
      "legend": {"title": null, "orient": "top-right", "offset": 0, "padding": 12, "strokeColor": "black", "fillColor": "white", "labelFontSize": 14, "rowPadding": 2, "symbolSize": 60, "symbolStrokeWidth": 1.2, "symbolOffset": 25, "labelOffset": 30,
       "labelExpr": "datum.value==='CH4eq' ? 'CH₄' : datum.value==='O2eq' ? 'O₂' : datum.value==='CO2eq' ? 'CO₂' : datum.value==='H2Oeq' ? 'H₂O' : datum.label"}},
     "stroke": {"field": "s", "type": "nominal", "scale": {"domain": ["UHC","O₂","CO₂","H₂O","CO","CH4eq","O2eq","CO2eq","H2Oeq"], "range": ["#333","#6a6a6a","#222","#505050","#333","#555","#aaa","#444","#888"]}},
     "shape": {"field": "s", "type": "nominal", "scale": {"domain": ["UHC","O₂","CO₂","H₂O","CO","CH4eq","O2eq","CO2eq","H2Oeq"], "range": ["square","circle","triangle-down","diamond","triangle-right","M-7.75,0H-5.1M-4.1,0H-3.6M-2.6,0H0M1,0H1.5M2.5,0H5.1M6.1,0H6.6","M-7.75,0H7.75","M-7.75,0H-4.4M-1.7,0H1.7M4.4,0H7.75","M-7.75,0H-5.2M-4.6,0H-4.2M-3.6,0H-3.2M-2.6,0H-0.1M0.5,0H0.9M1.5,0H1.9M2.5,0H5M5.6,0H6M6.6,0H7"]}}
    }
   },
   {
    "data": {"name": "zvert"},
    "mark": {"type": "rule", "color": "#777", "strokeDash": [10, 6], "strokeWidth": 1},
    "encoding": {
     "x": {"field": "z", "type": "quantitative", "axis": null},
     "y": {"field": "y", "type": "quantitative", "axis": null},
     "y2": {"field": "y2"}
    }
   },
   {
    "data": {"name": "zarrow"},
    "mark": {"type": "rule", "color": "black", "strokeWidth": 1},
    "encoding": {
     "x": {"field": "z", "type": "quantitative", "axis": null},
     "x2": {"field": "z2"},
     "y": {"field": "y", "type": "quantitative", "axis": null}
    }
   },
   {
    "data": {"name": "zhead"},
    "mark": {"type": "point", "filled": true, "color": "black", "opacity": 1, "size": 100, "shape": "M-1,-0.45L1,0L-1,0.45Z"},
    "encoding": {
     "x": {"field": "z", "type": "quantitative", "axis": null},
     "y": {"field": "y", "type": "quantitative", "axis": null}
    }
   },
   {
    "data": {"name": "ztext"},
    "mark": {"type": "text", "font": "Liberation Sans", "fontSize": 15, "color": "black", "align": "center", "baseline": "middle"},
    "encoding": {
     "x": {"field": "z", "type": "quantitative", "axis": null},
     "y": {"field": "y", "type": "quantitative", "axis": null},
     "text": {"field": "txt"}
    }
   }
  ]
 }
]
}
